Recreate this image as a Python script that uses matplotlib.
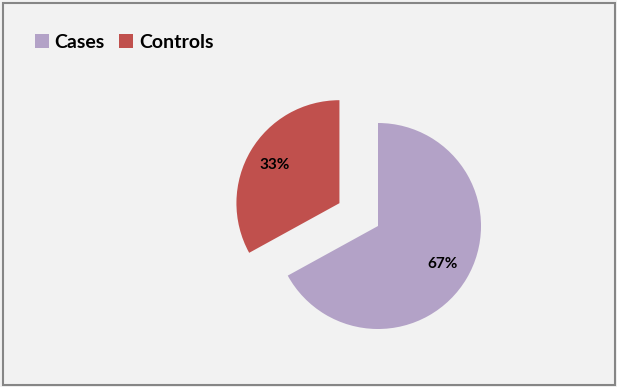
import numpy as np
import matplotlib.pyplot as plt
from matplotlib.patches import Rectangle

# data
labels = ['Cases', 'Controls']
shares = [67, 33]
colors = ['#B3A2C7', '#C0504D']

W, H = 617, 387
R = 103
fig = plt.figure(figsize=(W / 100, H / 100), dpi=100, facecolor='#F2F2F2')
ax = fig.add_axes([0, 0, 1, 1])

# explode is in data units, so scale it by the radius
wedges, texts, autotexts = ax.pie(
    shares, colors=colors, startangle=90, counterclock=False,
    center=(378, H - 226), radius=R, explode=[0, 0.435 * R],
    autopct='%1.0f%%', pctdistance=0.73,
    wedgeprops=dict(linewidth=0), frame=True)
ax.set_xlim(0, W)
ax.set_ylim(0, H)
ax.set_aspect('equal')
ax.axis('off')
for t in autotexts:
    t.set_fontfamily('Lato')
    t.set_fontweight('bold')
    t.set_fontsize(11)
    t.set_color('black')

leg = fig.legend(wedges, labels, loc='center left', bbox_to_anchor=(0.057, 0.891),
                 ncol=2, frameon=False, handlelength=0.7, handleheight=0.7,
                 handletextpad=0.3, columnspacing=0.75, borderaxespad=0,
                 borderpad=0,
                 prop={'family': 'Lato', 'size': 14, 'weight': 'bold'})

# outer border
fig.patches.append(Rectangle((2.5 / W, 2.5 / H), (W - 5) / W, (H - 5) / H,
                             transform=fig.transFigure, fill=False,
                             edgecolor='#868686', linewidth=1.5))

fig.savefig('out.png', dpi=100, facecolor=fig.get_facecolor())
